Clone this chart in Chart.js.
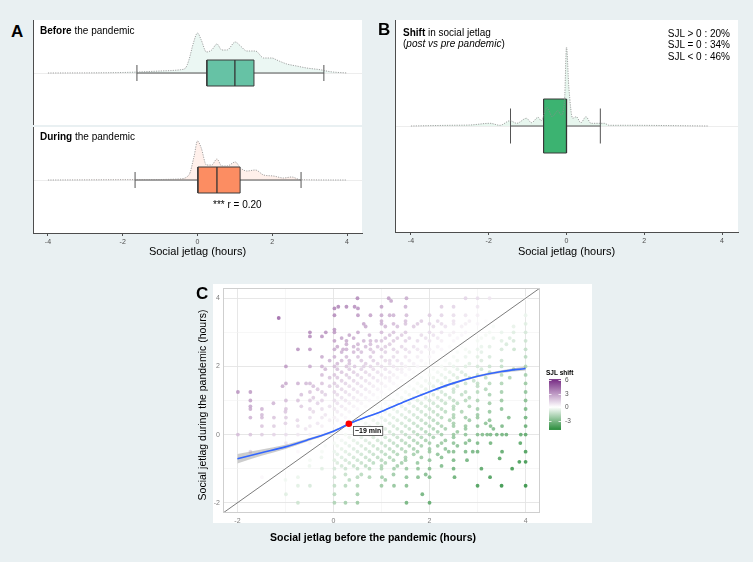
<!DOCTYPE html>
<html>
<head>
<meta charset="utf-8">
<script src="https://cdn.jsdelivr.net/npm/chart.js@4.4.1/dist/chart.umd.min.js"></script>
<style>
  html, body { margin: 0; padding: 0; }
  body { background: #e9f0f2; font-family: "Liberation Sans", Arial, Helvetica, sans-serif; }
  #fig { position: relative; width: 753px; height: 562px; overflow: hidden; }
  .panel { position: absolute; background: #fff; }
  canvas { position: absolute; }
  .txt { position: absolute; white-space: nowrap; color: #000; line-height: 1; }
  .big { font-size: 17px; font-weight: bold; }
  .sm { font-size: 10px; }
</style>
</head>
<body>
<div id="fig">
  <div class="panel" style="left:33px;top:20px;width:329px;height:105px"></div>
  <div class="panel" style="left:33px;top:127px;width:329px;height:106px"></div>
  <div class="panel" style="left:395px;top:20px;width:343px;height:212px"></div>
  <div class="panel" style="left:213px;top:284px;width:379px;height:239px"></div>

  <canvas id="chartBefore" width="339" height="105" style="left:28px;top:20px"></canvas>
  <canvas id="chartDuring" width="339" height="135" style="left:28px;top:127px"></canvas>
  <canvas id="chartShift" width="353" height="242" style="left:390px;top:20px"></canvas>
  <canvas id="chartScatter" width="410" height="270" style="left:190px;top:280px"></canvas>

  <div class="txt big" style="left:11px;top:23px">A</div>
  <div class="txt sm" style="left:40px;top:25.5px"><b>Before</b> the pandemic</div>
  <div class="txt sm" style="left:40px;top:131.5px"><b>During</b> the pandemic</div>
  <div class="txt sm" style="left:213px;top:200px">*** r = 0.20</div>

  <div class="txt big" style="left:378px;top:21px">B</div>
  <div class="txt sm" style="left:403px;top:27.5px"><b>Shift</b> in social jetlag</div>
  <div class="txt sm" style="left:403px;top:39px">(<i>post vs pre pandemic</i>)</div>
  <div class="txt sm" id="sjlStats" style="right:23px;top:27.5px;text-align:right;line-height:11.6px"></div>

  <div class="txt big" style="left:196px;top:285px">C</div>
</div>

<script>
const FONT = '"Liberation Sans", Arial, Helvetica, sans-serif';
Chart.defaults.font.family = FONT;
Chart.defaults.animation = false;

// ---------- panels A and B: social jetlag distributions ----------
const sjlTicks = [-4, -2, 0, 2, 4];

// density outlines (hours, relative density)
const beforeX = [-4, -2, -1, -0.45, -0.32, -0.23, -0.11, 0, 0.1, 0.24, 0.38, 0.52, 0.65, 0.79, 1.01, 1.15, 1.32, 1.55, 1.77, 1.99, 2.12, 2.39, 2.65, 2.92, 3.28, 3.55, 4];
const beforeDensity = [0, 0.005, 0.02, 0.033, 0.05, 0.13, 0.3, 0.4, 0.33, 0.21, 0.23, 0.29, 0.23, 0.23, 0.31, 0.27, 0.22, 0.22, 0.15, 0.15, 0.13, 0.09, 0.07, 0.05, 0.033, 0.013, 0];

const duringX = [-4, -1, -0.5, -0.23, -0.09, 0, 0.1, 0.24, 0.38, 0.52, 0.65, 0.79, 1.01, 1.15, 1.32, 1.55, 1.77, 2.03, 2.3, 2.52, 2.75, 4];
const duringDensity = [0, 0.005, 0.01, 0.05, 0.24, 0.39, 0.32, 0.15, 0.15, 0.21, 0.14, 0.14, 0.18, 0.12, 0.09, 0.1, 0.05, 0.04, 0.02, 0.03, 0.003, 0];

const shiftX = [-4, -2.99, -2.48, -1.97, -1.71, -1.45, -1.28, -1.03, -0.9, -0.73, -0.65, -0.5, -0.37, -0.22, -0.14, -0.05, 0, 0.06, 0.16, 0.25, 0.37, 0.5, 0.63, 0.97, 1.1, 1.52, 3.66];
const shiftDensity = [0, 0.007, 0.01, 0.027, 0.007, 0.053, 0.027, 0.077, 0.033, 0.087, 0.053, 0.187, 0.093, 0.153, 0.11, 0.26, 0.79, 0.39, 0.077, 0.093, 0.033, 0.093, 0.027, 0.027, 0.007, 0.007, 0];

// box plots: lower whisker, Q1, median, Q3, upper whisker
const beforeBox = [-1.62, 0.25, 1.0, 1.51, 3.38];
const duringBox = [-1.67, 0.01, 0.52, 1.14, 2.77];
const shiftBox = [-1.44, -0.59, 0, 0, 0.87];

const shiftShares = ['SJL > 0 : 20%', 'SJL = 0 : 34%', 'SJL < 0 : 46%'];

// ---------- panel C: before vs during ----------
const scatterTicks = [-2, -1, 0, 1, 2, 3, 4];
const scatterLabels = [-2, 0, 2, 4];

// social jetlag during (row level) and the before values found on that row
const duringLevels = [
  4.0, 3.92, 3.75, 3.7, 3.5, 3.42, 3.33, 3.25, 3.17, 3.08, 3.0, 2.92, 2.88, 2.83, 2.75, 2.65, 2.58, 2.5, 2.42,
  2.28, 2.17, 2.08, 2.0, 1.92, 1.83, 1.75, 1.67, 1.58, 1.5, 1.42, 1.33, 1.25, 1.17, 1.08, 1.0, 0.92, 0.83,
  0.75, 0.67, 0.58, 0.5, 0.42, 0.33, 0.25, 0.17, 0.08, 0.0, -0.08, -0.17, -0.25, -0.33, -0.42, -0.5, -0.58,
  -0.67, -0.7, -0.75, -0.8, -0.83, -0.92, -1.0, -1.17, -1.25, -1.33, -1.5, -1.75, -2.0
];
const beforeByLevel = [
  [0.5, 1.15, 1.52, 2.75, 3.0, 3.25, 4.0],
  [1.2],
  [0.1, 0.27, 0.44, 1.0, 1.5, 2.25, 2.5, 3.0],
  [0.02, 0.51],
  [0.02, 0.51, 0.77, 1.0, 1.17, 1.25, 1.52, 2.0, 2.25, 2.5, 2.75, 3.0, 3.5, 4.0],
  [-1.14],
  [1.0, 1.5, 1.83, 2.17, 2.5, 2.83, 3.17],
  [0.63, 1.0, 1.25, 1.5, 1.75, 2.0, 2.25, 2.5, 2.75, 3.0, 3.25, 4.0],
  [0.67, 1.08, 1.33, 1.67, 2.08, 2.33, 2.67, 3.33, 3.75],
  [0.02],
  [-0.49, -0.16, 0.02, 0.51, 1.0, 1.25, 1.5, 2.0, 2.25, 2.5, 2.75, 3.0, 3.25, 3.5, 3.75, 4.0],
  [0.33, 0.75, 1.17, 1.42, 1.83, 2.08, 2.42, 2.67, 3.17],
  [-0.49, -0.24],
  [0.17, 0.42, 1.08, 1.33, 1.58, 1.92, 2.17, 2.58, 3.08, 3.33, 3.67],
  [0.02, 0.27, 0.63, 0.77, 0.89, 1.0, 1.25, 1.5, 1.75, 2.0, 2.25, 2.5, 3.0, 3.5, 3.75, 4.0],
  [0.27, 0.51, 0.77, 1.17, 3.6],
  [0.08, 0.42, 0.67, 0.92, 1.08, 1.42, 1.67, 1.92, 2.17, 2.42, 2.67, 3.08, 3.25],
  [-0.74, -0.49, 0.02, 0.2, 0.27, 0.51, 0.77, 1.0, 1.25, 1.5, 1.75, 2.0, 2.25, 2.5, 2.75, 3.0, 3.5, 3.76, 4.0],
  [0.17, 0.42, 0.58, 0.83, 1.08, 1.33, 1.58, 1.83, 2.08, 2.33, 2.58, 2.83, 3.08],
  [-0.24, 0.02, 0.27, 0.51, 0.77, 1.0, 1.25, 1.5, 1.75, 2.0, 2.25, 2.5, 2.75, 3.0, 3.25, 4.0],
  [-0.08, 0.17, 0.33, 0.58, 0.83, 1.08, 1.17, 1.33, 1.58, 1.83, 2.08, 2.33, 2.58, 3.08, 3.5],
  [0.08, 0.33, 0.67, 0.92, 1.17, 1.42, 1.67, 1.92, 2.17, 2.42, 2.83],
  [-0.99, -0.49, -0.24, 0.02, 0.27, 0.44, 0.63, 0.77, 1.0, 1.25, 1.5, 1.75, 2.0, 2.25, 2.5, 2.75, 3.0, 3.25, 3.5, 4.0],
  [-0.17, 0.08, 0.33, 0.58, 0.83, 1.08, 1.33, 1.42, 1.58, 1.83, 2.08, 2.33, 2.58, 3.08, 3.75],
  [0.17, 0.42, 0.67, 0.92, 1.17, 1.42, 1.67, 1.92, 2.17, 2.42, 2.67, 3.25],
  [-0.24, 0.02, 0.27, 0.5, 0.75, 1.0, 1.25, 1.5, 1.75, 2.0, 2.25, 2.5, 2.75, 3.0, 3.5, 4.0],
  [-0.08, 0.08, 0.33, 0.58, 0.83, 1.08, 1.17, 1.33, 1.58, 1.83, 2.08, 2.33, 2.58, 2.83, 3.17, 3.67],
  [0.17, 0.42, 0.67, 0.92, 1.17, 1.42, 1.67, 1.92, 2.17, 2.42, 2.92],
  [-0.99, -0.74, -0.57, -0.49, -0.24, 0.02, 0.25, 0.5, 0.75, 1.0, 1.25, 1.5, 1.75, 2.0, 2.25, 2.5, 2.75, 3.0, 3.25, 3.5, 4.0],
  [-1.06, -0.42, -0.08, 0.08, 0.33, 0.58, 0.83, 1.08, 1.33, 1.58, 1.83, 2.08, 2.33, 2.58, 3.0],
  [-0.33, 0.17, 0.42, 0.67, 0.92, 1.17, 1.42, 1.67, 1.92, 2.17, 2.5, 3.17],
  [-1.99, -1.73, -0.49, -0.24, 0.02, 0.25, 0.5, 0.75, 1.0, 1.25, 1.5, 1.75, 2.0, 2.25, 2.5, 2.75, 3.0, 3.5, 4.0],
  [-0.67, -0.17, 0.08, 0.33, 0.58, 0.83, 1.08, 1.33, 1.58, 1.83, 2.08, 2.33, 2.67, 3.25],
  [-0.42, 0.17, 0.42, 0.67, 0.92, 1.17, 1.42, 1.67, 1.92, 2.17, 2.42, 2.83],
  [-1.73, -0.99, -0.74, -0.49, -0.24, 0.02, 0.25, 0.5, 0.75, 1.0, 1.25, 1.5, 1.75, 2.0, 2.25, 2.5, 2.75, 3.0, 3.5, 4.0],
  [-1.25, -0.33, 0.08, 0.33, 0.58, 0.83, 1.08, 1.33, 1.58, 1.83, 2.08, 2.33, 2.58, 3.25],
  [-1.73, -0.67, -0.08, 0.17, 0.42, 0.67, 0.92, 1.17, 1.42, 1.67, 1.92, 2.17, 2.5, 2.83],
  [-1.73, -1.49, -0.99, -0.49, -0.24, 0.02, 0.25, 0.5, 0.75, 1.0, 1.25, 1.5, 1.75, 2.0, 2.25, 2.5, 3.0, 3.5, 4.0],
  [-1.0, -0.42, 0.08, 0.33, 0.58, 0.83, 1.08, 1.33, 1.58, 1.83, 2.08, 2.33, 2.67, 3.25],
  [-1.49, -0.17, 0.17, 0.42, 0.67, 0.92, 1.17, 1.42, 1.67, 1.92, 2.17, 2.5, 3.0],
  [-1.73, -1.49, -1.24, -0.99, -0.49, -0.24, 0.02, 0.25, 0.5, 0.75, 1.0, 1.25, 1.5, 1.75, 2.0, 2.25, 2.5, 2.75, 3.0, 3.65, 4.0],
  [-0.75, -0.08, 0.08, 0.33, 0.58, 0.83, 1.08, 1.33, 1.58, 1.83, 2.08, 2.42, 2.83, 3.25],
  [-1.0, -0.33, 0.17, 0.42, 0.67, 0.92, 1.17, 1.42, 1.67, 1.92, 2.17, 2.5, 3.17],
  [-1.49, -1.24, -0.74, -0.49, -0.24, 0.02, 0.25, 0.5, 0.75, 1.0, 1.25, 1.5, 1.75, 2.0, 2.25, 2.5, 2.75, 3.0, 3.27, 3.51, 4.0],
  [-0.58, 0.08, 0.33, 0.58, 0.83, 1.08, 1.33, 1.58, 1.83, 2.08, 2.33, 2.75, 3.33],
  [-0.17, 0.17, 0.42, 0.67, 0.92, 1.17, 1.42, 1.67, 1.92, 2.17, 2.58],
  [-1.99, -1.73, -1.49, -1.24, -0.99, -0.74, -0.49, -0.24, 0.02, 0.25, 0.5, 0.75, 1.0, 1.25, 1.5, 1.75, 2.0, 2.25, 2.5, 2.75, 3.0, 3.1, 3.2, 3.27, 3.4, 3.51, 3.6, 3.9, 4.0],
  [-0.33, 0.08, 0.33, 0.58, 0.83, 1.08, 1.33, 1.58, 1.83, 2.08, 2.5],
  [0.17, 0.42, 0.67, 0.92, 1.17, 1.42, 1.67, 1.92, 2.33, 2.83],
  [-0.99, -0.49, 0.02, 0.25, 0.5, 0.75, 1.0, 1.25, 1.5, 1.75, 2.0, 2.25, 2.5, 2.75, 3.0, 3.27, 3.89],
  [-0.17, 0.08, 0.33, 0.58, 0.83, 1.08, 1.33, 1.58, 1.83, 2.17, 2.58],
  [0.17, 0.42, 0.67, 0.92, 1.17, 1.42, 1.67, 2.0, 2.33],
  [-1.73, -0.74, -0.24, 0.02, 0.25, 0.5, 0.75, 1.0, 1.25, 1.5, 1.75, 2.0, 2.4, 2.5, 2.75, 2.9, 3.0, 3.51, 4.0],
  [0.08, 0.33, 0.58, 0.83, 1.08, 1.33, 1.67, 2.17],
  [-0.25, 0.17, 0.42, 0.67, 0.92, 1.17, 1.5, 1.83, 2.25],
  [3.46],
  [-0.49, 0.02, 0.25, 0.5, 0.75, 1.0, 1.25, 1.5, 2.0, 2.5, 2.78],
  [3.87, 4.0],
  [0.08, 0.33, 0.58, 0.83, 1.08, 1.42, 1.75],
  [-0.5, 0.17, 0.42, 0.67, 1.0, 1.33, 2.25],
  [-0.99, -0.24, 0.02, 0.25, 0.5, 0.75, 1.0, 1.26, 1.52, 1.76, 2.0, 2.5, 3.08, 3.72],
  [0.25, 0.58, 1.25, 1.92],
  [-1.49, -0.74, 0.02, 0.5, 0.75, 1.01, 1.52, 1.76, 2.0, 2.52, 3.26],
  [-1.0, 0.33, 1.08],
  [-0.74, -0.49, 0.02, 0.25, 0.5, 1.0, 1.26, 1.52, 3.0, 3.5, 4.0],
  [-0.99, 0.02, 0.5, 1.85],
  [-0.74, 0.02, 0.25, 0.5, 1.52, 2.0]
];

// loess fit with its confidence band
const loessX = [-2, -1.5, -1, -0.5, 0, 0.33, 0.5, 1, 1.5, 2, 2.5, 3, 3.5, 4];
const loessY = [-0.71, -0.53, -0.36, -0.14, 0.1, 0.32, 0.42, 0.68, 0.98, 1.26, 1.51, 1.71, 1.85, 1.94];
const loessLo = [-0.85, -0.62, -0.42, -0.18, 0.07, 0.3, 0.4, 0.66, 0.96, 1.24, 1.48, 1.68, 1.81, 1.88];
const loessHi = [-0.57, -0.44, -0.3, -0.1, 0.13, 0.34, 0.44, 0.7, 1.0, 1.28, 1.54, 1.74, 1.89, 2.0];

const crossX = [0.32];
const crossY = [0.32];
const crossLabel = '~19 min';
const crossLabelPos = [0.4, 0.1];

const scatterRange = [-2.3, 4.3];
const legendTicks = [6, 3, 0, -3];
const shiftRange = [-5.1, 6.2];

document.getElementById('sjlStats').innerHTML = shiftShares.join('<br>');

// ---------- helpers ----------
const pts = (xs, ys) => xs.map((x, i) => ({x: x, y: ys[i]}));

function distributionDatasets(xs, dens, box, boxColor, fillColor, boxH, capH) {
  const d = pts(xs, dens);
  const [lo, q1, med, q3, hi] = box;
  return [
    {data: d, fill: 'origin', backgroundColor: fillColor, borderWidth: 0, cubicInterpolationMode: 'monotone', order: 7},
    {data: [{x: lo, y: 0}, {x: hi, y: 0}], borderColor: '#555', borderWidth: 1, order: 6},
    {data: [{x: lo, y: -capH}, {x: lo, y: capH}], borderColor: '#555', borderWidth: 1, order: 6},
    {data: [{x: hi, y: -capH}, {x: hi, y: capH}], borderColor: '#555', borderWidth: 1, order: 6},
    {data: [{x: q1, y: boxH}, {x: q3, y: boxH}], fill: {value: -boxH}, backgroundColor: boxColor, borderWidth: 0, order: 5},
    {data: [{x: q1, y: -boxH}, {x: q3, y: -boxH}, {x: q3, y: boxH}, {x: q1, y: boxH}, {x: q1, y: -boxH}], borderColor: '#3a3a3a', borderWidth: 1, order: 4},
    {data: [{x: med, y: -boxH}, {x: med, y: boxH}], borderColor: '#333', borderWidth: 1.3, order: 3},
    {data: d, fill: false, borderColor: '#8c8c8c', borderWidth: 0.8, borderDash: [1.2, 1.2], cubicInterpolationMode: 'monotone', order: 1}
  ];
}

function distributionChart(id, datasets, xr, yMin, yMax, axisH) {
  const showAxis = axisH > 0;
  return new Chart(document.getElementById(id), {
    type: 'line',
    data: {datasets: datasets},
    options: {
      responsive: false,
      animation: false,
      layout: {padding: {left: 5, right: 5, top: 0, bottom: 0}},
      elements: {point: {radius: 0}, line: {tension: 0}},
      plugins: {legend: {display: false}, tooltip: {enabled: false}},
      scales: {
        x: {
          type: 'linear', min: -xr, max: xr, display: showAxis,
          afterBuildTicks: s => { s.ticks = sjlTicks.map(v => ({value: v})); },
          afterFit: s => { s.height = axisH; },
          ticks: {font: {size: 7}, color: '#4d4d4d', padding: 1.5, maxRotation: 0, autoSkip: false},
          grid: {drawOnChartArea: false, drawTicks: true, tickLength: 3, color: '#4d4d4d'},
          border: {display: true, color: '#4d4d4d', width: 1},
          title: {display: true, text: 'Social jetlag (hours)', font: {size: 11}, color: '#000', padding: {top: 0, bottom: 3.4}}
        },
        y: {
          type: 'linear', min: yMin, max: yMax,
          afterBuildTicks: s => { s.ticks = [{value: 0}]; },
          afterFit: s => { s.width = 0; },
          ticks: {display: false},
          grid: {drawTicks: false, color: '#ededed', lineWidth: 1},
          border: {display: true, color: '#4d4d4d', width: 1}
        }
      }
    }
  });
}

distributionChart('chartBefore',
  distributionDatasets(beforeX, beforeDensity, beforeBox, '#66c2a5', 'rgba(102,194,165,0.13)', 0.13, 0.08),
  4.4, -0.52, 0.53, 0);
distributionChart('chartDuring',
  distributionDatasets(duringX, duringDensity, duringBox, '#fc8d62', 'rgba(252,141,98,0.13)', 0.13, 0.08),
  4.4, -0.53, 0.53, 29);
distributionChart('chartShift',
  distributionDatasets(shiftX, shiftDensity, shiftBox, '#3cb371', 'rgba(60,179,113,0.12)', 0.27, 0.175),
  4.41, -1.06, 1.06, 30);

// ---------- panel C ----------
const purpleEnd = [118, 42, 131];
const greenEnd = [40, 140, 58];

function shiftColor(s, alpha) {
  const t = s >= 0 ? Math.min(s / shiftRange[1], 1) : Math.min(s / shiftRange[0], 1);
  const end = s >= 0 ? purpleEnd : greenEnd;
  const c = end.map(v => Math.round(255 + t * (v - 255)));
  return 'rgba(' + c[0] + ',' + c[1] + ',' + c[2] + ',' + alpha + ')';
}

const scatterPts = [];
duringLevels.forEach((yv, i) => beforeByLevel[i].forEach(xv => scatterPts.push({x: xv, y: yv})));

const scatterExtras = {
  id: 'scatterExtras',
  afterDatasetsDraw(chart) {
    const {ctx, chartArea: a, scales: {x, y}} = chart;
    ctx.save();
    // panel border
    ctx.strokeStyle = '#cfcfcf';
    ctx.lineWidth = 1;
    ctx.strokeRect(a.left + 0.5, a.top + 0.5, a.width - 1, a.height - 1);

    // crossing label
    ctx.font = 'bold 7px ' + FONT;
    const tw = ctx.measureText(crossLabel).width;
    const lx = Math.round(x.getPixelForValue(crossLabelPos[0]));
    const ly = Math.round(y.getPixelForValue(crossLabelPos[1]));
    ctx.fillStyle = '#fff';
    ctx.fillRect(lx, ly - 5, tw + 4, 10);
    ctx.strokeStyle = '#444';
    ctx.lineWidth = 0.8;
    ctx.strokeRect(lx + 0.5, ly - 4.5, tw + 3, 9);
    ctx.fillStyle = '#000';
    ctx.textBaseline = 'middle';
    ctx.fillText(crossLabel, lx + 2, ly + 0.5);

    // colour bar legend
    const bx = 359, bw = 12;
    const vy = v => 127 - v * 4.5;
    const top = vy(shiftRange[1]), bot = vy(shiftRange[0]);
    const g = ctx.createLinearGradient(0, top, 0, bot);
    for (let k = 0; k <= 20; k++) {
      const v = shiftRange[1] - k * (shiftRange[1] - shiftRange[0]) / 20;
      g.addColorStop(k / 20, shiftColor(v, 1));
    }
    ctx.fillStyle = g;
    ctx.fillRect(bx, top, bw, bot - top);
    ctx.strokeStyle = '#fff';
    ctx.lineWidth = 0.8;
    ctx.font = '6.5px ' + FONT;
    legendTicks.forEach(v => {
      const ty = Math.round(vy(v)) + 0.5;
      ctx.beginPath();
      ctx.moveTo(bx, ty); ctx.lineTo(bx + 2.5, ty);
      ctx.moveTo(bx + bw - 2.5, ty); ctx.lineTo(bx + bw, ty);
      ctx.stroke();
      ctx.fillStyle = '#555';
      ctx.textBaseline = 'middle';
      ctx.fillText(String(v), bx + 16, ty);
    });
    ctx.fillStyle = '#000';
    ctx.font = 'bold 6.5px ' + FONT;
    ctx.textBaseline = 'alphabetic';
    ctx.fillText('SJL shift', 356, 94.5);

    // axis titles
    ctx.textAlign = 'center';
    ctx.textBaseline = 'middle';
    ctx.font = 'bold 10.5px ' + FONT;
    ctx.fillText('Social jetlag before the pandemic (hours)', 183, 258);
    ctx.translate(13, 125);
    ctx.rotate(-Math.PI / 2);
    ctx.font = '10.5px ' + FONT;
    ctx.fillText('Social jetlag during the pandemic (hours)', 0, 0);
    ctx.restore();
  }
};

function scatterAxis(isX) {
  return {
    type: 'linear', min: scatterRange[0], max: scatterRange[1],
    afterBuildTicks: s => { s.ticks = scatterTicks.map(v => ({value: v})); },
    afterFit: s => { if (isX) s.height = 37; else s.width = 33; },
    ticks: {
      callback: v => scatterLabels.includes(v) ? String(v) : '',
      font: {size: 7}, color: '#7f7f7f', padding: isX ? 4 : 3, maxRotation: 0, autoSkip: false
    },
    grid: {
      drawTicks: false,
      color: c => (c.tick && c.tick.value % 2 === 0) ? '#e4e4e4' : '#f1f1f1',
      lineWidth: c => (c.tick && c.tick.value % 2 === 0) ? 0.9 : 0.6
    },
    border: {display: false},
    title: {display: false}
  };
}

new Chart(document.getElementById('chartScatter'), {
  type: 'scatter',
  data: {
    datasets: [
      {type: 'scatter', data: pts(crossX, crossY), pointRadius: 3.3, backgroundColor: '#ff0000', borderWidth: 0, order: 0},
      {type: 'line', data: pts(loessX, loessY), borderColor: '#3366ff', borderWidth: 1.6, pointRadius: 0, cubicInterpolationMode: 'monotone', fill: false, order: 1},
      {type: 'line', data: pts(loessX, loessLo), borderWidth: 0, pointRadius: 0, cubicInterpolationMode: 'monotone', fill: false, order: 3},
      {type: 'line', data: pts(loessX, loessHi), borderWidth: 0, pointRadius: 0, cubicInterpolationMode: 'monotone', fill: '-1', backgroundColor: 'rgba(130,130,130,0.4)', order: 2},
      {type: 'line', data: pts(scatterRange, scatterRange), borderColor: '#444', borderWidth: 0.7, pointRadius: 0, fill: false, order: 4},
      {type: 'scatter', data: scatterPts, pointRadius: 1.9, borderWidth: 0, order: 5,
        backgroundColor: c => c.raw ? shiftColor(c.raw.y - c.raw.x, 0.85) : 'rgba(0,0,0,0)'}
    ]
  },
  options: {
    responsive: false,
    animation: false,
    layout: {padding: {left: 0, right: 60, top: 8, bottom: 0}},
    plugins: {legend: {display: false}, tooltip: {enabled: false}},
    scales: {
      x: scatterAxis(true),
      y: scatterAxis(false)
    }
  },
  plugins: [scatterExtras]
});
</script>
</body>
</html>
